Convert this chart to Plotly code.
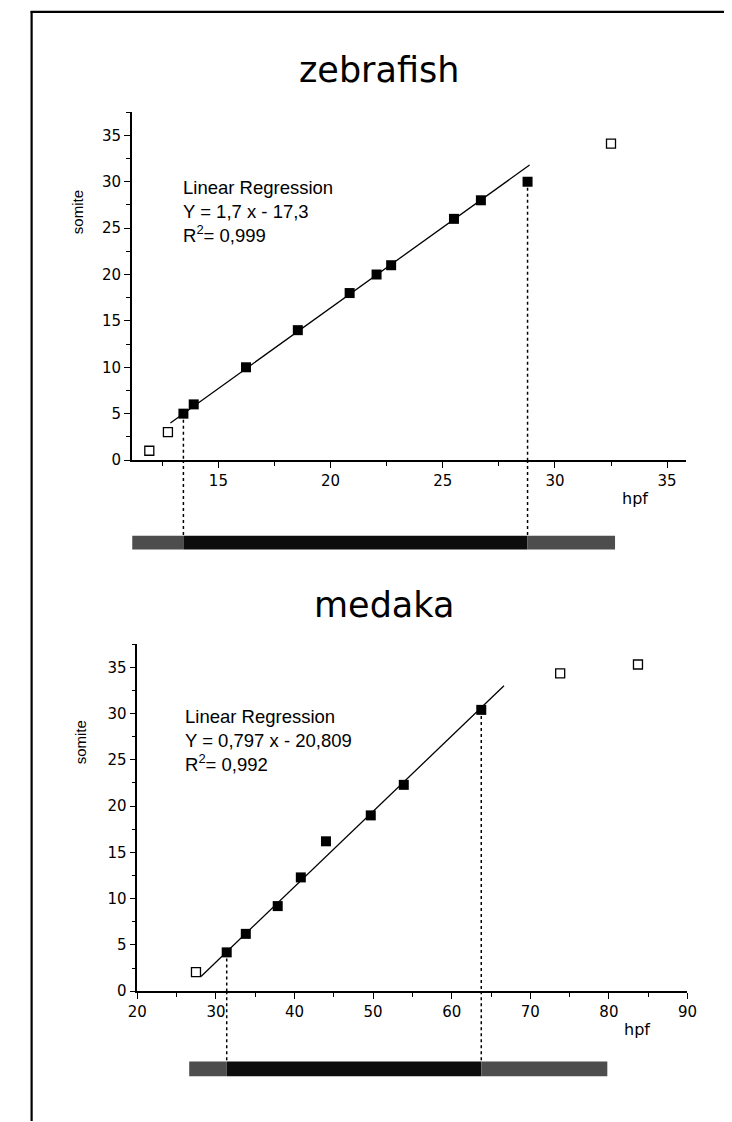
import plotly.graph_objects as go

W, H = 732, 1122

# ---------------- data ----------------
# zebrafish
zf_fit_x = [13.44, 13.9, 16.23, 18.54, 20.85, 22.05, 22.7, 25.5, 26.7, 28.78]
zf_fit_y = [5, 6, 10, 14, 18, 20, 21, 26, 28, 30]
zf_out_x = [11.92, 12.75, 32.5]
zf_out_y = [1, 3, 34.1]
zf_reg_x = [12.86, 28.87]
zf_reg_y = [4.0, 31.8]
zf_guides_x = [13.44, 28.78]
zf_guides_y = [5, 30]
zf_bar_edges = [11.16, 13.44, 28.78, 32.68]
zf_xticks = [15, 20, 25, 30, 35]
zf_yticks = [0, 5, 10, 15, 20, 25, 30, 35]
zf_text = "Linear Regression<br>Y = 1,7 x - 17,3<br>R<sup>2</sup>= 0,999"

# medaka
md_fit_x = [31.37, 33.8, 37.86, 40.8, 44.0, 49.7, 53.9, 63.76]
md_fit_y = [4.2, 6.2, 9.2, 12.3, 16.2, 19.0, 22.3, 30.4]
md_out_x = [27.46, 73.8, 83.7]
md_out_y = [2.06, 34.35, 35.3]
md_reg_x = [28.1, 66.65]
md_reg_y = [1.6, 33.0]
md_guides_x = [31.37, 63.76]
md_guides_y = [4.2, 30.4]
md_bar_edges = [26.6, 31.37, 63.76, 79.8]
md_xticks = [20, 30, 40, 50, 60, 70, 80, 90]
md_yticks = [0, 5, 10, 15, 20, 25, 30, 35]
md_text = "Linear Regression<br>Y = 0,797 x - 20,809<br>R<sup>2</sup>= 0,992"


def px(x):
    return x / W


def py(y):
    return 1 - y / H


fig = go.Figure()

TICKFONT = dict(family="DejaVu Sans", size=15, color="black")


def panel(xa, ya, fit_x, fit_y, out_x, out_y, reg_x, reg_y, gx, gy):
    fig.add_trace(go.Scatter(x=reg_x, y=reg_y, mode="lines",
                             line=dict(color="black", width=1.3),
                             xaxis=xa, yaxis=ya, hoverinfo="skip"))
    for x, y in zip(gx, gy):
        fig.add_trace(go.Scatter(x=[x, x], y=[y, 0], mode="lines",
                                 line=dict(color="black", width=1.5, dash="dot"),
                                 xaxis=xa, yaxis=ya, hoverinfo="skip"))
    fig.add_trace(go.Scatter(x=fit_x, y=fit_y, mode="markers",
                             marker=dict(symbol="square", size=10, color="black"),
                             xaxis=xa, yaxis=ya, cliponaxis=False))
    fig.add_trace(go.Scatter(x=out_x, y=out_y, mode="markers",
                             marker=dict(symbol="square-open", size=9, color="black",
                                         line=dict(width=1.3, color="black")),
                             xaxis=xa, yaxis=ya, cliponaxis=False))


panel("x", "y", zf_fit_x, zf_fit_y, zf_out_x, zf_out_y, zf_reg_x, zf_reg_y, zf_guides_x, zf_guides_y)
panel("x2", "y2", md_fit_x, md_fit_y, md_out_x, md_out_y, md_reg_x, md_reg_y, md_guides_x, md_guides_y)


def axis_common():
    return dict(showline=True, linecolor="black", linewidth=1.6, showgrid=False,
                zeroline=False, ticks="outside", ticklen=6, tickwidth=1.4,
                tickcolor="black", tickfont=TICKFONT, fixedrange=True)


fig.update_layout(
    width=W, height=H, margin=dict(l=0, r=0, t=0, b=0),
    paper_bgcolor="white", plot_bgcolor="white", showlegend=False,
    xaxis=dict(domain=[px(117), px(686.7)], range=[11.14, 35.84], anchor="y",
               tickvals=zf_xticks, minor=dict(ticks="outside", ticklen=4, dtick=2.5, tick0=0,
                                              tickcolor="black", tickwidth=1.2),
               **axis_common()),
    yaxis=dict(domain=[py(455.7), py(105)], range=[0, 37.5], anchor="x",
               tickvals=zf_yticks, minor=dict(ticks="outside", ticklen=4, dtick=2.5, tick0=0,
                                              tickcolor="black", tickwidth=1.2),
               **axis_common()),
    xaxis2=dict(domain=[px(122.7), px(688.3)], range=[20, 90], anchor="y2",
                tickvals=md_xticks, minor=dict(ticks="outside", ticklen=4, dtick=5, tick0=0,
                                               tickcolor="black", tickwidth=1.2),
                **axis_common()),
    yaxis2=dict(domain=[py(991.2), py(641.3)], range=[0, 37.5], anchor="x2",
                tickvals=md_yticks, minor=dict(ticks="outside", ticklen=4, dtick=2.5, tick0=0,
                                               tickcolor="black", tickwidth=1.2),
                **axis_common()),
)

shapes = []
# page frame (left and top edges)
shapes.append(dict(type="line", xref="paper", yref="paper", x0=px(14), x1=px(14), y0=py(3), y1=py(1122),
                   line=dict(color="black", width=2.2)))
shapes.append(dict(type="line", xref="paper", yref="paper", x0=px(13), x1=px(732), y0=py(4), y1=py(4),
                   line=dict(color="black", width=2.2)))


def timeline(xref, edges, axis_y, top, bottom):
    # dotted guides continue below the axis to the bar
    for gxv in edges[1:3]:
        shapes.append(dict(type="line", xref=xref, yref="paper", x0=gxv, x1=gxv,
                           y0=py(axis_y), y1=py(top),
                           line=dict(color="black", width=1.5, dash="dot")))
    cols = ["#4d4d4d", "#0d0d0d", "#4d4d4d"]
    for i in range(3):
        shapes.append(dict(type="rect", xref=xref, yref="paper", x0=edges[i], x1=edges[i + 1],
                           y0=py(bottom), y1=py(top), fillcolor=cols[i],
                           line=dict(width=0), layer="above"))


timeline("x", zf_bar_edges, 455.7, 532, 546)
timeline("x2", md_bar_edges, 991.2, 1062, 1077)
fig.update_layout(shapes=shapes)

ann = []
ann.append(dict(text="zebrafish", x=px(371.4), y=py(62), xref="paper", yref="paper",
                showarrow=False, xanchor="center", yanchor="middle",
                font=dict(family="DejaVu Sans", size=35, color="black")))
ann.append(dict(text="medaka", x=px(376), y=py(602), xref="paper", yref="paper",
                showarrow=False, xanchor="center", yanchor="middle",
                font=dict(family="DejaVu Sans", size=35, color="black")))
for (xx, yy) in [(62, 205.5), (64, 740)]:
    ann.append(dict(text="somite", x=px(xx), y=py(yy), xref="paper", yref="paper",
                    showarrow=False, textangle=-90, xanchor="center", yanchor="middle",
                    font=dict(family="Liberation Sans", size=15, color="black")))
for (xx, yy) in [(634, 494), (636.7, 1030)]:
    ann.append(dict(text="hpf", x=px(xx), y=py(yy), xref="paper", yref="paper",
                    showarrow=False, xanchor="center", yanchor="middle",
                    font=dict(family="DejaVu Sans", size=16, color="black")))
for (txt, xx, yy) in [(zf_text, 168, 168), (md_text, 170, 702)]:
    ann.append(dict(text=txt, x=px(xx), y=py(yy), xref="paper", yref="paper",
                    showarrow=False, xanchor="left", yanchor="top", align="left",
                    font=dict(family="Liberation Sans", size=18.5, color="black")))
fig.update_layout(annotations=ann)

fig.write_html("out.html")
